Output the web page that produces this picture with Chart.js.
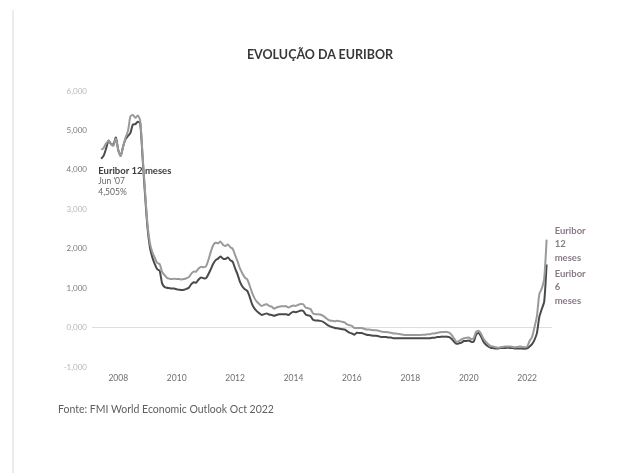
<!DOCTYPE html>
<html>
<head>
<meta charset="utf-8">
<script src="https://cdn.jsdelivr.net/npm/chart.js@4"></script>
<style>
  html, body { margin: 0; padding: 0; background: #fff; }
  #quadro { position: relative; width: 640px; height: 473px; overflow: hidden; font-family: Lato, "Open Sans", sans-serif; }
  #quadro canvas { position: absolute; left: 0; top: 0; }
  #borda { position: absolute; left: 12px; top: 10px; width: 2px; height: 463px; background: #ececec; }
  #titulo { position: absolute; left: 0; width: 640px; top: 47px; text-align: center; font-weight: bold; font-size: 12.5px; color: #383838; }
  #fonte { position: absolute; left: 58px; top: 403px; font-size: 10.5px; color: #5e5e5e; }
</style>
</head>
<body>
<div id="quadro">
  <div id="borda"></div>
  <canvas id="grafico" width="640" height="473"></canvas>
  <div id="titulo">EVOLUÇÃO DA EURIBOR</div>
  <div id="fonte">Fonte: FMI World Economic Outlook Oct 2022</div>
</div>
<script>
// Primeiro mês da série (jun 2007) e anos marcados no eixo
const ANO_INICIO = 2007;
const MES_INICIO = 6;
const anos = [2008, 2010, 2012, 2014, 2016, 2018, 2020, 2022];
const valoresEixoY = [-1, 0, 1, 2, 3, 4, 5, 6];

// Textos das anotações
const anotacaoInicio = ["Euribor 12 meses", "Jun '07", "4,505%"];
const etiqueta12m = ["Euribor", "12", "meses"];
const etiqueta6m = ["Euribor", "6", "meses"];

// Euribor 12 meses, média mensal (%), jun 2007 a set 2022
const euribor12m = [
  4.51, 4.56, 4.67, 4.73, 4.65, 4.61, 4.79,
  4.50, 4.35, 4.59, 4.82, 4.99, 5.36, 5.39, 5.32, 5.38, 5.25, 4.35, 3.45,
  2.62, 2.14, 1.91, 1.77, 1.64, 1.61, 1.41, 1.33, 1.26, 1.24, 1.23, 1.24,
  1.23, 1.23, 1.22, 1.23, 1.25, 1.28, 1.37, 1.42, 1.42, 1.50, 1.54, 1.53,
  1.55, 1.71, 1.92, 2.09, 2.15, 2.14, 2.18, 2.10, 2.07, 2.11, 2.04, 2.00,
  1.84, 1.68, 1.50, 1.37, 1.27, 1.22, 1.06, 0.88, 0.74, 0.65, 0.59, 0.55,
  0.58, 0.59, 0.55, 0.53, 0.48, 0.51, 0.53, 0.54, 0.54, 0.54, 0.51, 0.54,
  0.56, 0.55, 0.58, 0.60, 0.59, 0.51, 0.49, 0.47, 0.36, 0.34, 0.34, 0.33,
  0.30, 0.26, 0.21, 0.18, 0.17, 0.16, 0.17, 0.16, 0.15, 0.13, 0.08, 0.06,
  0.04, -0.01, -0.01, -0.01, -0.01, -0.03, -0.05, -0.05, -0.06, -0.07, -0.07, -0.08,
  -0.10, -0.11, -0.11, -0.12, -0.13, -0.15, -0.15, -0.16, -0.17, -0.18, -0.19, -0.19,
  -0.19, -0.19, -0.19, -0.19, -0.19, -0.18, -0.18, -0.17, -0.17, -0.15, -0.15, -0.13,
  -0.12, -0.11, -0.11, -0.11, -0.13, -0.19, -0.28, -0.36, -0.34, -0.30, -0.27, -0.26,
  -0.25, -0.29, -0.27, -0.11, -0.08, -0.15, -0.28, -0.36, -0.42, -0.47, -0.48, -0.50,
  -0.51, -0.50, -0.49, -0.48, -0.48, -0.48, -0.49, -0.50, -0.49, -0.48, -0.49, -0.50,
  -0.48, -0.34, -0.24, 0.01, 0.29, 0.85, 0.99, 1.25, 2.23
];

// Euribor 6 meses, média mensal (%), mesmo período
const euribor6m = [
  4.28, 4.36, 4.54, 4.74, 4.66, 4.64, 4.82,
  4.50, 4.36, 4.60, 4.78, 4.86, 4.94, 5.15, 5.16, 5.22, 5.18, 4.29, 3.37,
  2.54, 2.03, 1.78, 1.61, 1.48, 1.44, 1.12, 1.03, 1.01, 1.00, 0.99, 0.99,
  0.97, 0.96, 0.95, 0.96, 0.98, 1.01, 1.10, 1.15, 1.14, 1.22, 1.27, 1.25,
  1.25, 1.35, 1.48, 1.62, 1.71, 1.75, 1.80, 1.75, 1.74, 1.78, 1.71, 1.67,
  1.50, 1.35, 1.16, 1.04, 0.97, 0.93, 0.78, 0.59, 0.48, 0.41, 0.36, 0.32,
  0.34, 0.36, 0.33, 0.32, 0.30, 0.32, 0.34, 0.34, 0.34, 0.34, 0.32, 0.37,
  0.40, 0.39, 0.41, 0.43, 0.42, 0.33, 0.31, 0.29, 0.20, 0.18, 0.18, 0.17,
  0.15, 0.11, 0.06, 0.03, 0.01, -0.01, -0.02, -0.03, -0.04, -0.05, -0.09, -0.13,
  -0.15, -0.18, -0.13, -0.14, -0.14, -0.16, -0.18, -0.19, -0.20, -0.21, -0.21, -0.22,
  -0.24, -0.24, -0.24, -0.25, -0.25, -0.27, -0.27, -0.27, -0.27, -0.27, -0.27, -0.27,
  -0.27, -0.27, -0.27, -0.27, -0.27, -0.27, -0.27, -0.27, -0.27, -0.26, -0.26, -0.24,
  -0.24, -0.23, -0.23, -0.23, -0.24, -0.29, -0.36, -0.41, -0.40, -0.38, -0.34, -0.34,
  -0.33, -0.36, -0.36, -0.19, -0.14, -0.22, -0.35, -0.43, -0.48, -0.51, -0.52, -0.53,
  -0.53, -0.52, -0.52, -0.52, -0.51, -0.52, -0.52, -0.53, -0.53, -0.53, -0.53, -0.54,
  -0.53, -0.48, -0.42, -0.31, -0.14, 0.27, 0.47, 0.66, 1.60
];

// Datas (em anos decimais) de cada mês da série
const meses = euribor12m.map((_, i) => ANO_INICIO + (MES_INICIO - 1 + i) / 12);

const toPontos = (valores) => valores.map((v, i) => ({ x: meses[i], y: v }));

const formataTaxa = (v) => v.toFixed(3).replace(".", ",");

// Plugin simples para escrever as etiquetas das séries
const etiquetas = {
  id: "etiquetas",
  afterDatasetsDraw(chart) {
    const ctx = chart.ctx;
    const m12 = chart.getDatasetMeta(0).data;
    const m6 = chart.getDatasetMeta(1).data;
    const ult12 = m12[m12.length - 1];
    const ult6 = m6[m6.length - 1];
    const prim = m12[0];

    ctx.save();
    ctx.textBaseline = "middle";
    ctx.textAlign = "left";

    // etiquetas no fim das linhas
    ctx.fillStyle = "#8a7a88";
    ctx.font = "bold 9.5px Lato, sans-serif";
    etiqueta12m.forEach((t, i) => ctx.fillText(t, ult12.x + 8, ult12.y - 9 + i * 13.5));
    etiqueta6m.forEach((t, i) => ctx.fillText(t, ult6.x + 8, ult6.y + 9 + i * 13.5));

    // anotação do início da série
    ctx.fillStyle = "#3c3c3c";
    ctx.font = "bold 9.5px Lato, sans-serif";
    ctx.fillText(anotacaoInicio[0], prim.x - 3, 171);
    ctx.fillStyle = "#666";
    ctx.font = "8.5px Lato, sans-serif";
    ctx.fillText(anotacaoInicio[1], prim.x - 3, 181.5);
    ctx.fillText(anotacaoInicio[2], prim.x - 3, 192);
    ctx.restore();
  }
};

const ctx = document.querySelector("#grafico").getContext("2d");
const chart = new Chart(ctx, {
  type: "line",
  data: {
    datasets: [
      {
        label: "Euribor 12 meses",
        data: toPontos(euribor12m),
        borderColor: "#9a9a9a",
        borderWidth: 2,
        pointRadius: 0,
        tension: 0.25
      },
      {
        label: "Euribor 6 meses",
        data: toPontos(euribor6m),
        borderColor: "#4a4a4a",
        borderWidth: 2,
        pointRadius: 0,
        tension: 0.25
      }
    ]
  },
  options: {
    responsive: false,
    animation: false,
    devicePixelRatio: 1,
    layout: { padding: { left: 22, right: 88, top: 91, bottom: 86 } },
    plugins: {
      legend: { display: false },
      tooltip: { enabled: false }
    },
    scales: {
      x: {
        type: "linear",
        min: 2007.1,
        max: 2022.85,
        afterBuildTicks: (s) => { s.ticks = anos.map((a) => ({ value: a })); },
        afterFit: (s) => { s.height = 20; },
        grid: { display: false, drawTicks: false },
        border: { display: false },
        ticks: {
          padding: 6,
          color: "#6f6f6f",
          font: { family: "Lato", size: 8.5 },
          callback: (v) => String(v)
        }
      },
      y: {
        min: -1,
        max: 6,
        afterBuildTicks: (s) => { s.ticks = valoresEixoY.map((v) => ({ value: v })); },
        afterFit: (s) => { s.width = 70; },
        grid: {
          drawTicks: false,
          color: (c) => (c.tick && c.tick.value === 0 ? "#dedede" : "rgba(0,0,0,0)")
        },
        border: { display: false },
        ticks: {
          padding: 5,
          font: { family: "Lato", size: 8 },
          color: (c) => ([1, 2, 4, 5].includes(c.tick.value) ? "#7a7a7a" : "#b8b8b8"),
          callback: (v) => formataTaxa(v)
        }
      }
    }
  },
  plugins: [etiquetas]
});
</script>
</body>
</html>
